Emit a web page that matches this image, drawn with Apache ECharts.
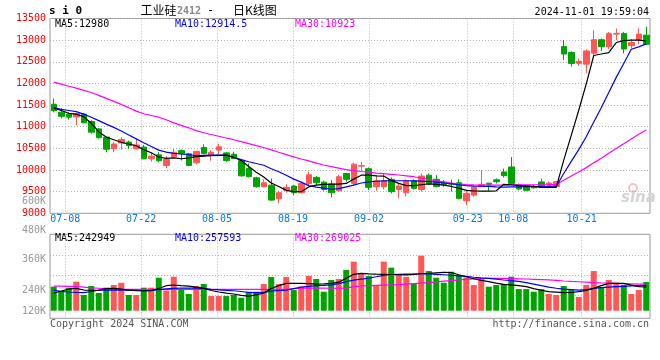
<!DOCTYPE html>
<html><head><meta charset="utf-8">
<script src="https://cdn.jsdelivr.net/npm/echarts@6/dist/echarts.min.js"></script>
<style>html,body{margin:0;padding:0;background:#fff}#c{width:660px;height:360px}</style>
</head><body><div id="c"></div>
<script>
const dates = ['07-04','07-05','07-08','07-09','07-10','07-11','07-12','07-15','07-16','07-17','07-18','07-19','07-22','07-23','07-24','07-25','07-26','07-29','07-30','07-31',
'08-01','08-02','08-05','08-06','08-07','08-08','08-09','08-12','08-13','08-14','08-15','08-16','08-19','08-20','08-21','08-22','08-23','08-26','08-27','08-28','08-29','08-30',
'09-02','09-03','09-04','09-05','09-06','09-09','09-10','09-11','09-12','09-13','09-18','09-19','09-20','09-23','09-24','09-25','09-26','09-27','09-30',
'10-08','10-09','10-10','10-11','10-14','10-15','10-16','10-17','10-18','10-21','10-22','10-23','10-24','10-25','10-28','10-29','10-30','10-31','11-01'];
const labelDates = ['07-08','07-22','08-05','08-19','09-02','09-23','10-08','10-21'];

const openV = [11520,11335,11290,11225,11290,11120,10950,10760,10490,10625,10645,10490,10530,10260,10350,10105,10305,10450,10375,10165,
10520,10345,10460,10395,10365,10215,10035,9820,9615,9650,9335,9535,9630,9475,9690,9830,9720,9675,9520,9920,
9690,10090,10030,9615,9615,9785,9550,9475,9750,9550,9880,9785,9715,9690,9705,9290,9420,9615,9695,9775,
9955,10070,9665,9640,9620,9725,9650,9620,12850,12715,12465,12445,12700,13010,12850,13140,13155,12870,13000,13115];
const closeV = [11370,11240,11220,11305,11090,10875,10745,10480,10600,10705,10565,10580,10260,10320,10215,10245,10410,10375,10105,10430,
10380,10410,10535,10215,10265,9865,9845,9615,9705,9305,9475,9600,9475,9690,9890,9705,9550,9475,9845,9785,
10135,10100,9600,9750,9750,9500,9630,9750,9575,9860,9690,9615,9660,9675,9345,9460,9600,9660,9670,9730,
9870,9690,9560,9530,9590,9615,9700,9730,12680,12460,12510,12750,13010,12850,13150,13155,12795,12945,13140,12905];
const lowV = [11330,11195,11165,11040,11080,10840,10725,10410,10410,10475,10490,10475,10245,10195,10180,10045,10295,10220,10090,10135,
10365,10215,10365,10190,10265,9845,9830,9590,9600,9290,9230,9475,9420,9460,9650,9650,9520,9370,9500,9730,
9650,9980,9540,9520,9550,9460,9345,9385,9550,9500,9650,9600,9610,9500,9320,9190,9385,9615,9520,9690,
9830,9655,9535,9515,9570,9600,9630,9600,12540,12390,12410,12235,12650,12750,12795,13000,12695,12810,12900,12885];
const highV = [11650,11425,11335,11320,11320,11150,10965,10775,10645,10760,10680,10720,10580,10395,10410,10320,10490,10475,10395,10445,
10595,10460,10610,10420,10420,10245,10150,9845,9785,9805,9520,9675,9650,9730,9960,9860,9750,9765,9890,9935,
10165,10190,10060,9880,9935,9830,9690,9785,9785,9920,9920,9880,9770,9780,9785,9550,9630,10000,9705,9805,
10030,10300,9690,9660,9650,9800,9740,9750,13000,12740,12575,12790,13230,13040,13190,13270,13190,13025,13270,13310];

const ma5 = [11430,11375,11310,11290,11230,11080,10880,10760,10700,10640,10600,10560,10470,10400,10300,10270,10280,10260,10280,10310,
10320,10330,10340,10345,10290,10220,10080,9950,9840,9700,9620,9530,9500,9500,9610,9650,9670,9675,9675,9690,
9790,9880,9880,9865,9860,9760,9690,9640,9640,9660,9680,9670,9652,9620,9580,9530,9515,9514,9514,9520,
9670,9660,9640,9630,9620,9600,9600,9600,10230,10800,11380,11990,12645,12680,12710,12945,12990,13000,13000,12980];
const ma10 = [11440,11400,11375,11350,11290,11220,11140,11060,10985,10900,10810,10720,10630,10545,10460,10415,10385,10370,10355,10330,
10340,10345,10345,10340,10295,10240,10190,10150,10110,10030,9960,9880,9790,9720,9640,9605,9580,9555,9570,9610,
9650,9700,9728,9740,9750,9752,9752,9752,9750,9745,9735,9720,9700,9680,9660,9640,9630,9625,9620,9612,
9605,9610,9612,9615,9615,9618,9620,9625,9920,10200,10470,10770,11110,11440,11790,12140,12460,12790,12845,12914];
const ma30 = [12030,11985,11935,11890,11840,11790,11725,11655,11585,11515,11440,11360,11300,11260,11220,11160,11090,11030,10975,10910,
10860,10820,10780,10740,10700,10655,10610,10565,10520,10465,10410,10355,10305,10255,10210,10160,10115,10080,10045,10010,
9985,9965,9950,9930,9915,9900,9885,9865,9845,9815,9780,9750,9725,9700,9680,9665,9655,9650,9650,9650,
9652,9655,9655,9658,9660,9660,9662,9665,9765,9860,9955,10055,10165,10270,10385,10495,10605,10715,10825,10923];

const volume = [244000,200000,234000,295000,160000,251000,180000,234000,261000,284000,160000,160000,234000,234000,335000,206000,345000,210000,170000,251000,
271000,149000,149000,149000,160000,132000,193000,193000,271000,342000,271000,342000,210000,244000,353000,322000,193000,312000,322000,414000,
498000,373000,353000,257000,498000,437000,363000,345000,277000,559000,403000,335000,284000,396000,363000,338000,261000,328000,244000,261000,
271000,345000,220000,220000,193000,220000,170000,160000,251000,210000,139000,261000,403000,237000,312000,284000,261000,170000,210000,292000];
const volMa5 = [177000,200000,220000,227000,210000,208000,210000,225000,227000,220000,210000,205000,203000,205000,225000,254000,261000,255000,250000,240000,
227000,205000,190000,178000,170000,155000,149000,160000,180000,225000,255000,278000,278000,278000,275000,270000,272000,278000,290000,330000,
370000,380000,375000,372000,370000,368000,365000,363000,370000,378000,380000,385000,390000,388000,365000,345000,325000,308000,295000,280000,
268000,262000,255000,244000,225000,208000,193000,188000,183000,185000,193000,205000,227000,255000,278000,278000,278000,260000,244000,242949];
const volMa10 = [210000,195000,190000,186000,183000,195000,208000,210000,210000,210000,208000,206000,204000,205000,215000,222000,227000,230000,230000,229000,
227000,218000,212000,207000,203000,195000,185000,183000,183000,200000,205000,210000,225000,240000,248000,255000,258000,262000,275000,295000,
310000,320000,330000,345000,358000,368000,370000,372000,373000,373000,373000,370000,365000,360000,353000,348000,340000,333000,329000,320000,
312000,305000,298000,285000,270000,254000,240000,228000,220000,215000,210000,215000,227000,235000,240000,244000,248000,252000,255000,257593];
const volMa30 = [250000,250000,248000,246000,240000,232000,228000,222000,220000,218000,217000,217000,217000,216000,216000,217000,217000,217000,217000,217000,
217000,217000,216000,216000,216000,216000,216000,216000,217000,217000,217000,218000,225000,228000,230000,230000,230000,228000,228000,230000,
245000,251000,254000,257000,260000,262000,265000,270000,275000,280000,285000,292000,300000,306000,312000,318000,323000,327000,329000,329000,
328000,326000,324000,322000,319000,316000,313000,308000,302000,297000,294000,290000,285000,282000,280000,277000,274000,272000,270000,269025];

const volTickLabels = ['480K','360K','240K','120K'];
const strayLabel = '600K';
const mainLegend = ['MA5:12980','MA10:12914.5','MA30:10923'];
const volLegend = ['MA5:242949','MA10:257593','MA30:269025'];

const RED = '#ff5656', GREEN = '#00a400';
const MONO = 'DejaVu Sans Mono';
const GRIDC = '#b4b4b4';
const labelIdx = new Set(labelDates.map(d => dates.indexOf(d)));
const candles = dates.map((d, i) => [openV[i], closeV[i], lowV[i], highV[i]]);
const volBars = volume.map((v, i) => ({ value: v, itemStyle: { color: closeV[i] >= openV[i] ? RED : GREEN } }));

const chart = echarts.init(document.getElementById('c'), null, { renderer: 'canvas' });

function txt(text, x, y, opts) {
  return Object.assign({ type: 'text', x: x, y: y, silent: true,
    style: Object.assign({ text: text, font: '10px "' + MONO + '"', fill: '#000', align: 'left', verticalAlign: 'middle' }, opts || {}) });
}

const gridLine = { show: true, lineStyle: { color: GRIDC, type: [1, 2], width: 1 } };

chart.setOption({
  animation: false,
  backgroundColor: '#fff',
  grid: [
    { left: 50, right: 10, top: 18.5, height: 194.8, show: true, borderColor: '#999', borderWidth: 1, backgroundColor: 'transparent' },
    { left: 50, right: 10, top: 234.3, height: 84, show: true, borderColor: '#999', borderWidth: 1, backgroundColor: 'transparent' }
  ],
  xAxis: [
    { type: 'category', gridIndex: 0, data: dates, boundaryGap: true, show: false },
    { type: 'category', gridIndex: 0, data: dates, boundaryGap: false, position: 'bottom',
      axisLine: { show: false }, axisTick: { show: false },
      axisLabel: { show: true, interval: (i) => labelIdx.has(i), margin: 1, color: '#0a78d2', fontFamily: MONO, fontSize: 10, hideOverlap: false },
      splitLine: Object.assign({ interval: (i) => labelIdx.has(i) }, gridLine) },
    { type: 'category', gridIndex: 1, data: dates, boundaryGap: true, show: false },
    { type: 'category', gridIndex: 1, data: dates, boundaryGap: false,
      axisLine: { show: false }, axisTick: { show: false }, axisLabel: { show: false },
      splitLine: Object.assign({ interval: (i) => labelIdx.has(i) }, gridLine) }
  ],
  yAxis: [
    { type: 'value', gridIndex: 0, min: 9000, max: 13500, interval: 500,
      axisLine: { show: false }, axisTick: { show: false },
      axisLabel: { color: '#ff0000', fontFamily: MONO, fontSize: 10, margin: 4, padding: [0, 0, 3, 0], formatter: (v) => String(v) },
      splitLine: gridLine },
    { type: 'value', gridIndex: 1, min: -77000, max: 776000,
      axisLine: { show: false }, axisTick: { show: false }, axisLabel: { show: false }, splitLine: { show: false } }
  ],
  series: [
    { type: 'candlestick', xAxisIndex: 0, yAxisIndex: 0, data: candles, barWidth: 6, z: 3,
      itemStyle: { color: RED, color0: GREEN, borderColor: RED, borderColor0: GREEN, borderWidth: 1 } },
    { type: 'line', xAxisIndex: 0, yAxisIndex: 0, data: ma30, symbol: 'none', z: 4, lineStyle: { color: '#ff00ff', width: 1.2 } },
    { type: 'line', xAxisIndex: 0, yAxisIndex: 0, data: ma10, symbol: 'none', z: 4, lineStyle: { color: '#0000ff', width: 1.2 } },
    { type: 'line', xAxisIndex: 0, yAxisIndex: 0, data: ma5, symbol: 'none', z: 4, lineStyle: { color: '#000000', width: 1.2 } },
    { type: 'bar', xAxisIndex: 2, yAxisIndex: 1, data: volBars, barWidth: 6, z: 3,
      markLine: { silent: true, z: 1, symbol: ['none', 'none'], label: { show: false },
        lineStyle: { color: GRIDC, type: [1, 2], width: 1 },
        data: [{ yAxis: 152400 }, { yAxis: 355600 }, { yAxis: 558800 }] } },
    { type: 'line', xAxisIndex: 2, yAxisIndex: 1, data: volMa30, symbol: 'none', z: 4, lineStyle: { color: '#ff00ff', width: 1.2 } },
    { type: 'line', xAxisIndex: 2, yAxisIndex: 1, data: volMa10, symbol: 'none', z: 4, lineStyle: { color: '#0000ff', width: 1.2 } },
    { type: 'line', xAxisIndex: 2, yAxisIndex: 1, data: volMa5, symbol: 'none', z: 4, lineStyle: { color: '#000000', width: 1.2 } }
  ],
  graphic: [
    txt('s i 0', 49, 11.5, { font: 'bold 11px "' + MONO + '"' }),
    txt('工业硅', 140.5, 10.5, { font: '12px "Noto Sans CJK SC"' }),
    txt('2412', 177, 11, { font: 'bold 10px "' + MONO + '"', fill: '#888' }),
    txt('-', 207, 10.5, { font: '12px "' + MONO + '"' }),
    txt('日K线图', 233, 10.5, { font: '12px "Noto Sans CJK SC"' }),
    txt('2024-11-01 19:59:04', 649, 12, { align: 'right' }),
    txt(mainLegend[0], 55, 24),
    txt(mainLegend[1], 175, 24, { fill: '#0000ff' }),
    txt(mainLegend[2], 295, 24, { fill: '#ff00ff' }),
    txt(strayLabel, 46, 201, { align: 'right', fill: '#999' }),
    txt(volTickLabels[0], 46, 230.7, { align: 'right', fill: '#999' }),
    txt(volTickLabels[1], 46, 259.7, { align: 'right', fill: '#999' }),
    txt(volTickLabels[2], 46, 290.7, { align: 'right', fill: '#999' }),
    txt(volTickLabels[3], 46, 311.3, { align: 'right', fill: '#999' }),
    txt(volLegend[0], 55, 238.5),
    txt(volLegend[1], 175, 238.5, { fill: '#0000ff' }),
    txt(volLegend[2], 295, 238.5, { fill: '#ff00ff' }),
    txt('Copyright 2024 SINA.COM', 50, 324, { fill: '#555' }),
    txt('http://finance.sina.com.cn', 649, 324, { align: 'right', fill: '#555' }),
    { type: 'circle', shape: { cx: 633, cy: 188, r: 4 }, silent: true, style: { fill: 'none', stroke: '#f2c4c4', lineWidth: 2 } },
    txt('sina', 621, 198, { font: 'italic bold 15px "DejaVu Sans"', fill: '#d4d4d4' })
  ]
});
</script></body></html>
